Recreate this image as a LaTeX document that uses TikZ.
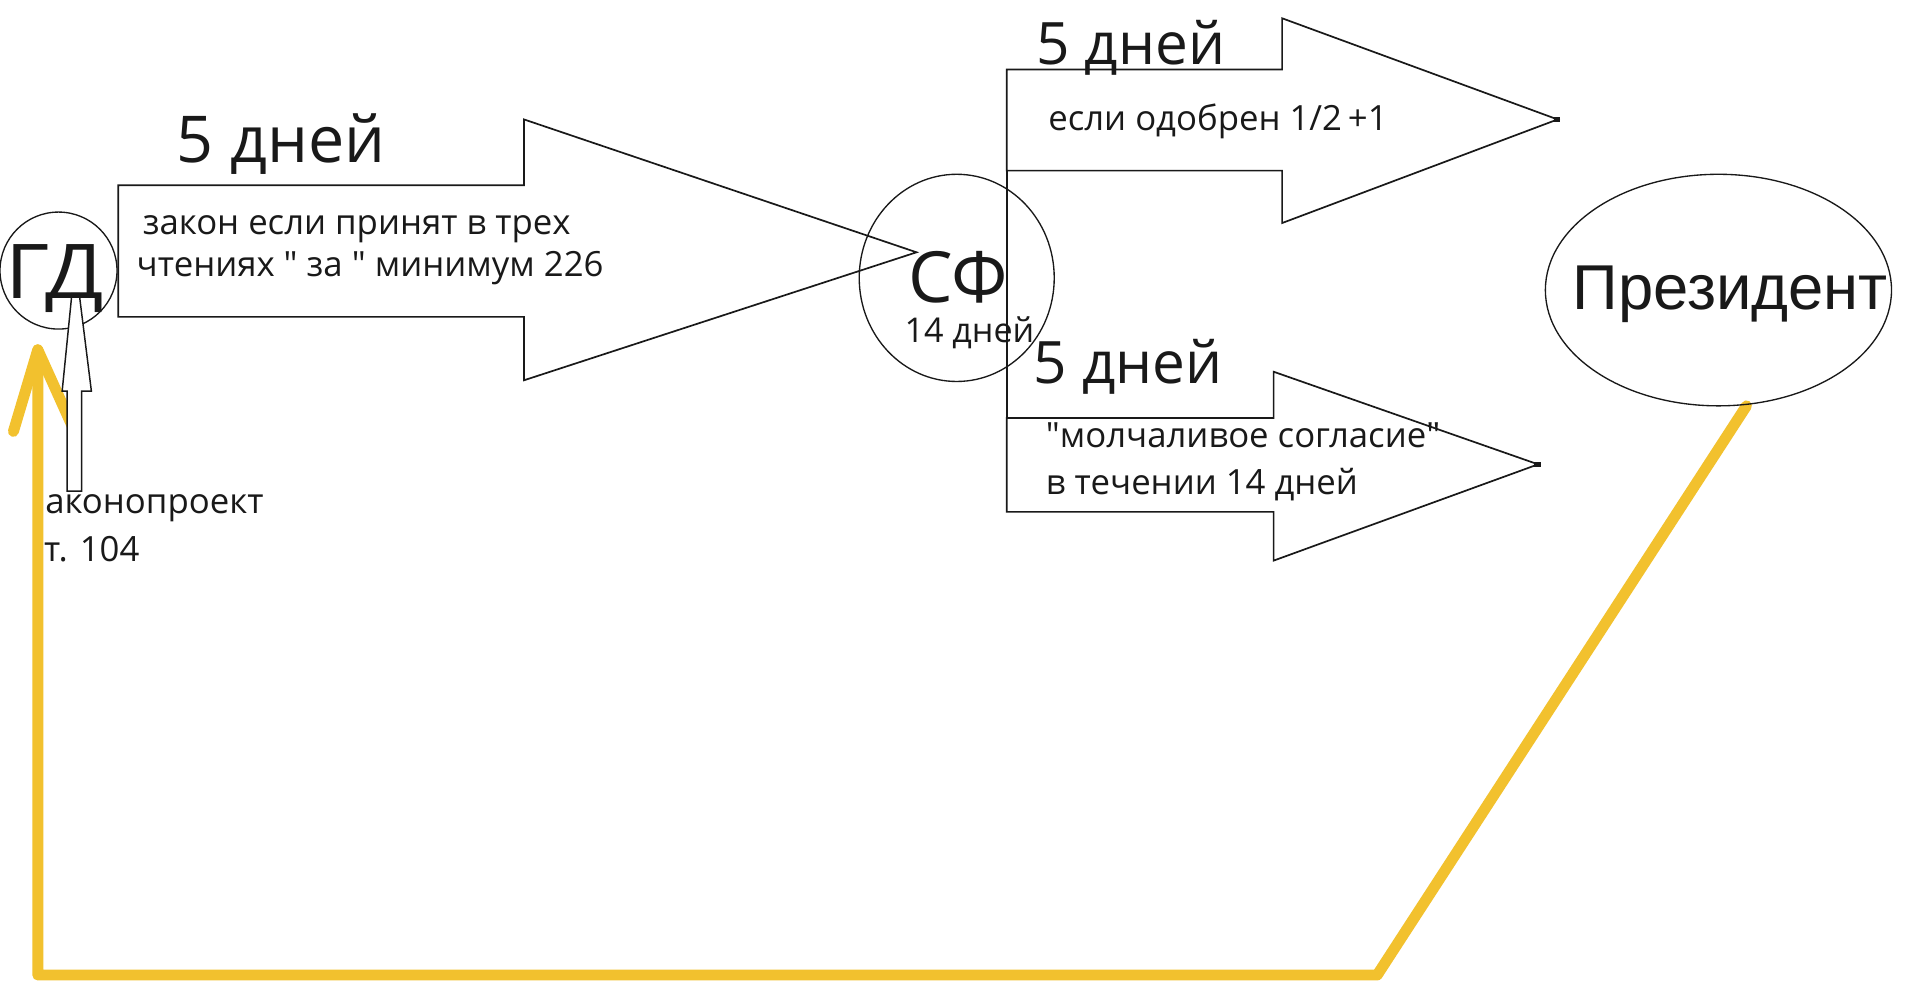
\documentclass[tikz,border=0pt]{standalone}
\usepackage{fontspec}
\setmainfont{Open Sans}
\newfontfamily\arialf{Liberation Sans}
\usetikzlibrary{shapes.geometric}
\definecolor{gold}{RGB}{242,193,46}
\definecolor{ink}{RGB}{25,25,25}
\newcommand{\qd}{\textquotedbl}
\tikzset{
  ln/.style={draw=ink, line width=1.4pt, line join=miter},
  ring/.style={draw=ink, line width=1.1pt, ellipse, inner sep=0pt},
  lbl/.style={anchor=base west, inner sep=0pt, text=ink},
  big/.style={lbl, font=\fontsize{53}{60}\selectfont},
  mid/.style={lbl, font=\fontsize{48}{56}\selectfont},
  small/.style={lbl, font=\fontsize{28.5}{34}\selectfont},
  yel/.style={draw=gold, line width=9pt, line cap=round, line join=round},
}
\begin{document}
\begin{tikzpicture}[x=1pt,y=-1pt]
\useasboundingbox[fill=white] (0,0) rectangle (1568,811);

% yellow return path
\coordinate (ystart) at (1433,333);
\coordinate (ybr) at (1130,800);
\coordinate (ybl) at (31,800);
\coordinate (ytip) at (31,287);
\coordinate (yl) at (11,354);
\coordinate (yr) at (59,349);
\draw[yel] (ystart) -- (ybr) -- (ybl) -- (ytip);
\draw[yel] (yl) -- (ytip) -- (yr);

% ellipses
\node[ring, minimum width=96, minimum height=96] (gd) at (48,222) {};
\node[ring, minimum width=160, minimum height=170] (sf) at (785,228) {};
\node[ring, minimum width=284, minimum height=190] (pres) at (1410,238) {};

% big arrow GD -> SF
\draw[ln] (97,152) -- (430,152) -- (430,98) -- (752,207) -- (430,312) -- (430,260) -- (97,260) -- cycle;

% upper right arrow
\draw[ln] (826,57) -- (1052,57) -- (1052,15) -- (1278,98) -- (1052,183) -- (1052,140) -- (826,140) -- cycle;
% lower right arrow
\draw[ln] (826,343) -- (1045,343) -- (1045,305) -- (1262,381) -- (1045,460) -- (1045,420) -- (826,420) -- cycle;
\draw[ln] (826,140) -- (826,343);
\fill[ink] (1275,96) rectangle (1280,100.5);
\fill[ink] (1259,379) rectangle (1264,383.5);

% thin arrow (законопроект)
\draw[draw=ink, line width=1.2pt, fill=white] (55,403) -- (55,321) -- (51,321) -- (59,241) -- (65,241) -- (75,321) -- (67,321) -- (67,403) -- cycle;

% texts
\node[big] (d1) at (145,133) {5 дней};
\node[small] (z1) at (117,192) {закон если принят в трех};
\node[small] (z2) at (112,227) {чтениях \qd\ за \qd\ минимум 226};
\node[lbl, font=\fontsize{62}{68}\selectfont] (gdt) at (4,245) {\scalebox{1.13}[1]{ГД}};
\node[small] (zp1) at (37,421) {аконопроект};
\node[small] (zp2) at (36,461) {т. 104};
\node[lbl, font=\fontsize{58}{64}\selectfont] (sft) at (745,248) {СФ};
\node[lbl, font=\fontsize{28}{32}\selectfont] (sf14) at (742,281) {14 дней};
\node[mid] (d2) at (850,53) {5 дней};
\node[small] (od) at (860,107) {если одобрен 1/2\,+1};
\node[mid] (d3) at (848,315) {5 дней};
\node[small] (m1) at (858,367) {\qd молчаливое согласие\qd};
\node[small] (m2) at (858,406) {в течении 14 дней};
\node[lbl, font={\arialf\fontsize{52}{60}\selectfont}] (prt) at (1290,254) {Президент};
\end{tikzpicture}
\end{document}
